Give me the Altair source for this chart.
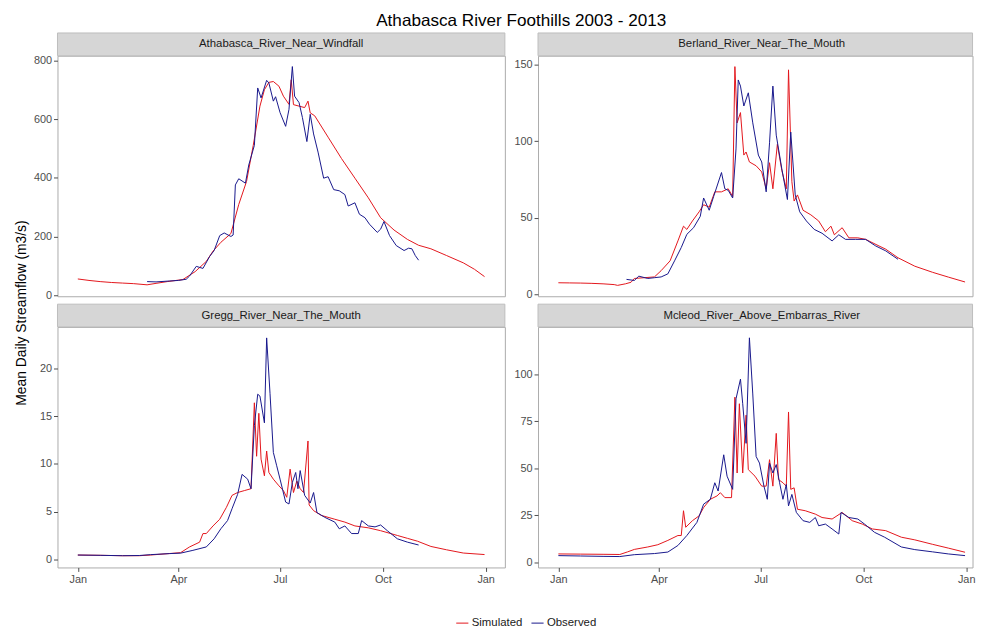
import altair as alt
import pandas as pd

FONT = "Liberation Sans"
RED = "#E3151B"
BLUE = "#17178C"

TITLE = "Athabasca River Foothills 2003 - 2013"
YTITLE = "Mean Daily Streamflow (m3/s)"
RIVERS = ["Athabasca_River_Near_Windfall", "Berland_River_Near_The_Mouth",
          "Gregg_River_Near_The_Mouth", "Mcleod_River_Above_Embarras_River"]
SERIES = ["Simulated", "Observed"]

# ---- Athabasca (day of year, flow m3/s) ----
sim_A_days = [0, 10, 20, 30, 40, 50, 62, 70, 80, 94, 105, 115, 121, 128, 137, 144, 151, 157, 163, 167,
              171, 175, 180, 184, 189, 191, 193, 198, 203, 206, 208, 212, 224, 236, 248, 260, 271, 283,
              295, 305, 316, 330, 345, 355, 364]
sim_A_vals = [55, 50, 46, 43, 41, 39, 35, 40, 46, 53, 80, 115, 150, 180, 210, 309, 388, 511, 645, 701,
              726, 729, 713, 679, 651, 735, 650, 645, 640, 662, 622, 612, 539, 466, 399, 332, 264, 222,
              190, 170, 158, 135, 110, 88, 63]
obs_A_days = [62, 70, 82, 90, 97, 100, 106, 112, 118, 122, 127, 131, 137, 139, 141, 144, 150, 153, 158, 161,
              164, 169, 171, 175, 177, 181, 186, 189, 192, 194, 198, 201, 205, 208, 211, 215, 220, 224,
              229, 234, 239, 242, 248, 252, 257, 261, 268, 271, 274, 279, 285, 292, 296, 299, 302, 305]
obs_A_vals = [46, 45, 48, 50, 54, 65, 98, 91, 132, 152, 203, 212, 200, 205, 376, 397, 382, 444, 511, 707,
              673, 733, 724, 662, 677, 623, 576, 634, 780, 679, 657, 606, 524, 617, 550, 488, 399, 404,
              360, 356, 343, 304, 315, 276, 264, 242, 214, 225, 251, 203, 169, 152, 160, 158, 135, 119]

# ---- Berland ----
sim_B_days = [0, 10, 20, 30, 40, 50, 53, 60, 65, 68, 86, 92, 100, 107, 112, 115, 120, 126, 130, 135, 140,
              146, 152, 156, 158, 160, 163, 166, 168, 171, 177, 182, 186, 189, 192, 196, 200, 204, 206,
              209, 211, 214, 219, 226, 233, 239, 244, 247, 254, 260, 268, 275, 287, 293, 304, 319, 335,
              349, 364]
sim_B_vals = [7.7, 7.6, 7.5, 7.3, 7.0, 6.5, 6.0, 7.0, 8.0, 10.5, 11.5, 15.6, 22, 35, 44.6, 42.5, 48, 54,
              58.6, 57, 67, 67, 69, 64, 148.7, 112, 118.7, 91, 93, 86.5, 84, 80, 69, 86, 69, 98, 81, 69,
              146.6, 73.6, 61, 65, 55, 52, 48, 41, 44.6, 39, 43.6, 37, 37, 36, 31.7, 29.6, 24, 18.5,
              14.5, 11.4, 8.2]
obs_B_days = [61, 68, 72, 80, 86, 92, 98, 104, 110, 115, 121, 127, 130, 135, 139, 146, 149, 152, 156, 159,
              161, 163, 166, 170, 174, 179, 182, 186, 189, 192, 195, 200, 205, 208, 212, 216, 222, 229,
              236, 245, 251, 257, 266, 275, 284, 293, 304]
obs_B_vals = [9.9, 9.2, 12.0, 10.5, 11, 11.5, 13.5, 22, 30.7, 39.3, 43.6, 51, 63, 55, 64, 79.6, 69, 68,
              63, 95, 140, 136, 123, 131.6, 112, 91, 86.5, 67, 99, 136, 104, 82, 62, 106, 65, 54, 48,
              42.5, 40, 35, 39, 36, 36, 36, 31.7, 28.5, 23]

# ---- Gregg ----
sim_C_days = [0, 20, 40, 55, 65, 92, 100, 109, 112, 115, 121, 127, 133, 138, 143, 149, 155, 158, 160, 162,
              164, 167, 169, 171, 175, 180, 184, 187, 190, 193, 196, 199, 202, 206, 207, 211, 218, 230,
              239, 248, 260, 271, 286, 295, 304, 316, 330, 345, 364]
sim_C_vals = [0.45, 0.42, 0.38, 0.38, 0.45, 0.7, 1.3, 1.8, 2.7, 2.7, 3.5, 4.2, 5.45, 6.7, 7.0, 7.2, 7.4,
              16.4, 10.8, 15.3, 10.5, 8.75, 11.35, 9.1, 8.4, 7.7, 7.2, 6.5, 9.45, 7.0, 8.2, 7.4, 7.0,
              12.4, 5.7, 5.1, 4.6, 4.2, 3.9, 3.5, 3.3, 3.0, 2.5, 2.2, 1.9, 1.35, 1.0, 0.66, 0.5]
obs_C_days = [0, 20, 40, 55, 65, 82, 92, 103, 115, 122, 128, 134, 138, 143, 147, 152, 155, 158, 161, 163,
              167, 169, 172, 175, 178, 181, 186, 189, 192, 195, 197, 199, 203, 208, 211, 214, 221, 230,
              234, 239, 245, 251, 254, 260, 266, 271, 277, 286, 295, 305]
obs_C_vals = [0.45, 0.42, 0.38, 0.4, 0.49, 0.6, 0.65, 0.94, 1.3, 2.15, 3.2, 4.06, 5.3, 6.8, 8.9, 8.4,
              7.4, 14, 17.3, 17.1, 14.3, 23.2, 17.4, 11.2, 9.8, 8.4, 6.0, 5.8, 8.05, 9.1, 7.4, 9.3,
              6.7, 5.9, 7.0, 4.9, 4.4, 3.9, 3.2, 3.5, 2.7, 2.7, 4.06, 3.5, 3.4, 3.6, 3.0, 2.15, 1.8, 1.5]

# ---- Mcleod ----
sim_D_days = [0, 20, 40, 55, 62, 68, 80, 89, 98, 107, 110, 112, 114, 120, 126, 130, 136, 142, 145, 149,
              155, 158, 160, 162, 165, 168, 170, 176, 182, 186, 189, 192, 195, 197, 201, 204, 206, 208,
              211, 214, 221, 230, 236, 245, 254, 263, 272, 281, 293, 307, 319, 335, 349, 364]
sim_D_vals = [4.4, 4.3, 4.2, 4.1, 5.5, 6.8, 8.1, 9.3, 11.6, 14.2, 14.2, 27.4, 18.6, 22.1, 24.7, 29.1,
              33.5, 35.3, 37, 34.4, 34.4, 87.9, 47.5, 84.4, 47.5, 78.3, 49.3, 45.8, 40.5, 40.5, 54.6,
              40.5, 68.6, 44, 42.3, 40.5, 80, 38.8, 39.6, 28.2, 27.4, 25.6, 23.8, 23, 26.5, 22.1, 20.3,
              17.7, 16.8, 13.3, 11.9, 9.5, 7.5, 5.3]
obs_D_days = [0, 20, 40, 55, 68, 86, 98, 107, 115, 124, 130, 136, 140, 143, 148, 151, 156, 159, 163, 165,
              168, 171, 174, 177, 180, 184, 187, 189, 192, 195, 198, 201, 204, 206, 209, 213, 219, 225,
              230, 233, 239, 245, 251, 253, 260, 268, 274, 283, 292, 307, 319, 335, 349, 364]
obs_D_vals = [3.5, 3.3, 3.1, 3.0, 4.0, 4.6, 5.4, 8.9, 14.2, 21.2, 30.9, 33.5, 42.3, 37.9, 57.2, 45.8,
              38.8, 87, 97.5, 84.4, 63.3, 119.5, 89.6, 56.3, 52.8, 40.5, 33.5, 52.8, 47.5, 52, 42.3,
              33.5, 41.4, 30, 36.1, 26.5, 22.1, 21.2, 23.8, 19.4, 20.3, 17.7, 15, 26.5, 23.8, 23, 20.3,
              15.9, 13.3, 8.1, 6.7, 5.5, 4.4, 3.5]

Y_DOMAINS = [[-4, 817], [-1.1, 155.8], [-0.85, 24.35], [-2.8, 125.3]]
Y_TICKS = [[0, 200, 400, 600, 800], [0, 50, 100, 150], [0, 5, 10, 15, 20], [0, 25, 50, 75, 100]]

# left column shows the full year; right column is cut by the picture edge (as in the reference)
WIDTHS = [452, 439, 452, 439]
H = 243
START = pd.Timestamp("2013-01-01")

X_DOMAINS = [
    [alt.DateTime(year=2012, month=12, date=13, hours=19, minutes=12),
     alt.DateTime(year=2014, month=1, date=18, hours=4, minutes=48)],
    [alt.DateTime(year=2012, month=12, date=13, hours=19, minutes=12),
     alt.DateTime(year=2014, month=1, date=6, hours=16, minutes=33)],
]
X_TICKS = [alt.DateTime(year=2013, month=1, date=1), alt.DateTime(year=2013, month=4, date=1),
           alt.DateTime(year=2013, month=7, date=1), alt.DateTime(year=2013, month=10, date=1),
           alt.DateTime(year=2014, month=1, date=1)]

LEGEND = alt.Legend(title=None, orient="none", legendX=402, legendY=566, direction="horizontal",
                    symbolType="stroke", symbolSize=150, symbolStrokeWidth=1,
                    labelFont=FONT, labelFontSize=11.5, labelColor="#1A1A1A",
                    labelOffset=2.5, columnPadding=6)


def frame(river, s_d, s_v, o_d, o_v):
    rows = [(river, "Simulated", d, v) for d, v in zip(s_d, s_v)]
    rows += [(river, "Observed", d, v) for d, v in zip(o_d, o_v)]
    df = pd.DataFrame(rows, columns=["river", "series", "day", "flow"])
    df["date"] = START + pd.to_timedelta(df["day"], unit="D")
    return df[["river", "series", "date", "flow"]]


def panel(i, s_d, s_v, o_d, o_v, bottom, ytitle):
    df = frame(RIVERS[i], s_d, s_v, o_d, o_v)
    w = WIDTHS[i]
    xaxis = alt.Axis(values=X_TICKS, format="%b", title=None) if bottom else None
    if ytitle:
        yaxis = alt.Axis(values=Y_TICKS[i], title=YTITLE, titleX=-36, titleY=-14.5, titleAngle=270,
                         titleAlign="center", titleBaseline="middle", titleFontSize=14,
                         titleFontWeight="normal", titleColor="#000000", titleFont=FONT)
    else:
        yaxis = alt.Axis(values=Y_TICKS[i], title=None)
    lines = alt.Chart(df).mark_line(strokeWidth=1).encode(
        x=alt.X("date:T", scale=alt.Scale(domain=X_DOMAINS[i % 2]), axis=xaxis),
        y=alt.Y("flow:Q", scale=alt.Scale(domain=Y_DOMAINS[i], nice=False, zero=False), axis=yaxis),
        color=alt.Color("series:N", scale=alt.Scale(domain=SERIES, range=[RED, BLUE]), legend=LEGEND),
    )
    strip_df = pd.DataFrame({"label": [RIVERS[i]]})
    rect = alt.Chart(strip_df).mark_rect(fill="#D6D6D6", stroke="#BDBDBD", strokeWidth=1).encode(
        x=alt.value(0), x2=alt.value(w), y=alt.value(-23), y2=alt.value(0))
    txt = alt.Chart(strip_df).mark_text(font=FONT, fontSize=11.5, color="#1A1A1A", baseline="middle").encode(
        x=alt.value(226), y=alt.value(-11.5), text="label:N")
    return alt.layer(rect, txt, lines).properties(width=w, height=H)


pA = panel(0, sim_A_days, sim_A_vals, obs_A_days, obs_A_vals, False, False)
pB = panel(1, sim_B_days, sim_B_vals, obs_B_days, obs_B_vals, False, False)
pC = panel(2, sim_C_days, sim_C_vals, obs_C_days, obs_C_vals, True, True)
pD = panel(3, sim_D_days, sim_D_vals, obs_D_days, obs_D_vals, True, False)

chart = alt.concat(pA, pB, pC, pD, columns=2, spacing={"row": 31, "column": 33.5},
                   bounds="flush", align="each").properties(
    title=alt.TitleParams(TITLE, font=FONT, fontSize=17.3, fontWeight="normal", color="#000000",
                          anchor="start", frame="group", dx=322, offset=-11, baseline="alphabetic"),
    padding={"left": 6, "top": 0, "right": 0, "bottom": 0},
).configure_view(stroke="#ABABAB", strokeWidth=1).configure_axis(
    domain=False, grid=False, labelFont=FONT, labelFontSize=11, labelColor="#4D4D4D",
    tickColor="#4D4D4D", tickSize=4, labelPadding=2,
)

chart.save("out.html", embed_options={"renderer": "svg", "actions": False})
